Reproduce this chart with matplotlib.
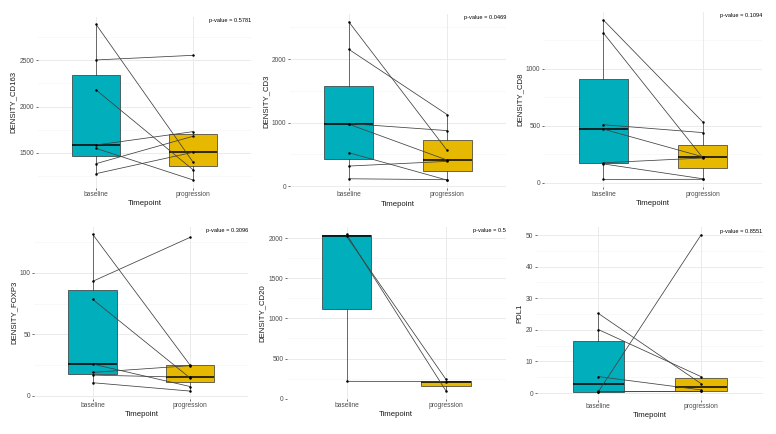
import matplotlib
matplotlib.use("Agg")
import matplotlib.pyplot as plt
import numpy as np

plt.rcParams['font.family'] = ['Liberation Sans', 'DejaVu Sans']

# data, paired by index (baseline[i] -> progression[i])
groups = ["baseline", "progression"]
cd163_base = [2888, 2504, 2180, 1586, 1550, 1385, 1277]
cd163_prog = [1403, 2554, 1320, 1730, 1209, 1680, 1507]
cd3_base = [2584, 2153, 985, 975, 526, 316, 116]
cd3_prog = [563, 1127, 874, 410, 95, 390, 101]
cd8_base = [1427, 1313, 509, 470, 175, 165, 29]
cd8_prog = [535, 222, 440, 228, 217, 35, 30]
foxp3_base = [131.5, 93.2, 78.5, 25.8, 19.0, 16.8, 10.6]
foxp3_prog = [25.0, 129.0, 14.5, 7.5, 24.5, 15.0, 3.8]
cd20_base = [2046, 2021, 216]
cd20_prog = [96, 240, 212]
pdl1_base = [25.2, 20.1, 5.2, 0.5, 0.4, 0.4]
pdl1_prog = [3.0, 5.2, 1.0, 0.5, 0.5, 50.0]

ylabels = ["DENSITY_CD163", "DENSITY_CD3", "DENSITY_CD8",
           "DENSITY_FOXP3", "DENSITY_CD20", "PDL1"]
pvalues = ["0.5781", "0.0469", "0.1094", "0.3096", "0.5", "0.8551"]
major_step = [500, 1000, 500, 50, 500, 10]

panels = [(cd163_base, cd163_prog), (cd3_base, cd3_prog), (cd8_base, cd8_prog),
          (foxp3_base, foxp3_prog), (cd20_base, cd20_prog), (pdl1_base, pdl1_prog)]

# panel boxes in pixels (left, right, top, bottom)
boxes = [(38, 251, 16.6, 187.7), (290, 506, 14.1, 188), (544, 762, 12.1, 187.4),
         (34.3, 248.4, 226.5, 398.9), (287, 505.6, 226.5, 398.8), (536.7, 762.6, 227.2, 399.6)]

W, H = 776, 434
fig = plt.figure(figsize=(W / 100, H / 100), dpi=100)
fill = ["#00AFBB", "#E7B800"]
grid_c = "#EBEBEB"

for k, ((b, p), (l, r, t, bt)) in enumerate(zip(panels, boxes)):
    ax = fig.add_axes([l / W, 1 - bt / H, (r - l) / W, (bt - t) / H])
    allv = np.array(b + p)
    lo, hi = allv.min(), allv.max()
    pad = 0.05 * (hi - lo)
    ylo, yhi = lo - pad, hi + pad
    ax.set_xlim(-0.6, 1.6)
    ax.set_ylim(ylo, yhi)

    step = major_step[k]
    majors = np.arange(np.ceil(ylo / step) * step, yhi, step) + 0.0
    minors = np.arange(np.ceil(ylo / (step / 2)) * (step / 2), yhi, step / 2)
    minors = [m for m in minors if not np.any(np.isclose(m, majors))]
    for m in minors:
        ax.axhline(m, color="#F3F3F3", lw=0.4, zorder=0)
    for m in majors:
        ax.axhline(m, color=grid_c, lw=0.7, zorder=0)
    for xx in [0, 1]:
        ax.axvline(xx, color=grid_c, lw=0.7, zorder=0)

    bp = ax.boxplot([b, p], positions=[0, 1], widths=0.5, patch_artist=True,
                    showfliers=False, showcaps=False, whis=1.5,
                    medianprops=dict(color="black", lw=1.1),
                    whiskerprops=dict(color="#333333", lw=0.5),
                    boxprops=dict(edgecolor="#333333", lw=0.5))
    for patch, c in zip(bp["boxes"], fill):
        patch.set_facecolor(c)
    for art in bp["boxes"] + bp["medians"] + bp["whiskers"]:
        art.set_zorder(2)

    for yb, yp in zip(b, p):
        ax.plot([0, 1], [yb, yp], color="#404040", lw=0.55, zorder=3)
    ax.scatter(np.zeros(len(b)), b, s=3.2, color="black", zorder=4, lw=0)
    ax.scatter(np.ones(len(p)), p, s=3.2, color="black", zorder=4, lw=0)

    ax.set_yticks(majors)
    ax.set_yticklabels([f"{abs(v) if v == 0 else v:g}" for v in majors])
    ax.set_xticks([0, 1])
    ax.set_xticklabels(groups)
    ax.tick_params(length=1.3, width=0.5, color="#333333", labelsize=4.8,
                   labelcolor="#4D4D4D", pad=1.2)
    for s in ax.spines.values():
        s.set_visible(False)
    ax.set_ylabel(ylabels[k], fontsize=5.6, color="#1A1A1A", labelpad=2)
    ax.set_xlabel("Timepoint", fontsize=5.6, color="#1A1A1A", labelpad=1.5)
    ax.annotate("p-value = " + pvalues[k], xy=(1, 1), xycoords="axes fraction",
                xytext=(0, -1), textcoords="offset points", ha="right", va="top",
                fontsize=4.1, color="black")

fig.savefig("out.png", dpi=100, facecolor="white")
